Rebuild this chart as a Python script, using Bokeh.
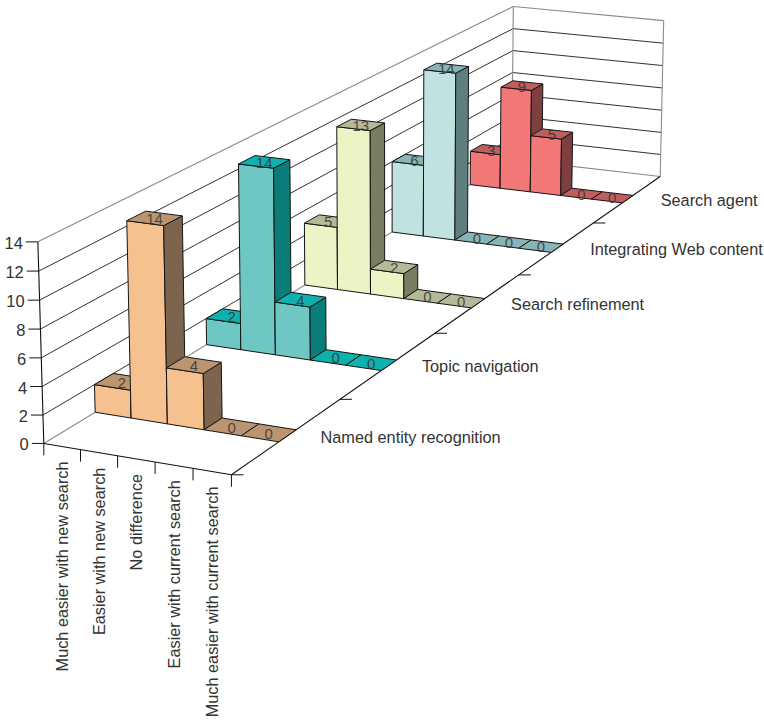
import numpy as np
from bokeh.plotting import figure
from bokeh.models import ColumnDataSource, Range1d
from bokeh.core.properties import value
from bokeh.embed import file_html
from bokeh.resources import INLINE

# Survey responses per feature, nearest row first
categories = ["Much easier with new search", "Easier with new search", "No difference",
              "Easier with current search", "Much easier with current search"]
features = ["Named entity recognition", "Topic navigation", "Search refinement",
            "Integrating Web content", "Search agent"]
named_entity = [2, 14, 4, 0, 0]
topic_navigation = [2, 14, 4, 0, 0]
search_refinement = [5, 13, 2, 0, 0]
integrating_web = [6, 14, 0, 0, 0]
search_agent = [3, 9, 5, 0, 0]
value_ticks = [0, 2, 4, 6, 8, 10, 12, 14]

rows = [named_entity, topic_navigation, search_refinement, integrating_web, search_agent]
front_colors = ["#F5C18F", "#6EC7C3", "#ECF3C5", "#C0E3E1", "#F27878"]
top_colors = ["#BB9570", "#0DB1AE", "#B6B997", "#88B4B6", "#C05E5E"]
side_colors = ["#7D644E", "#0A7D79", "#7A7D62", "#5F7F7E", "#7F3E40"]

TEXT = "#333333"
FONT = value("Liberation Sans")
VMAX = value_ticks[-1]
NX, NZ = len(categories), len(features)
GAP, DEPTH = 0.42, 0.16   # bar placement inside a row's cell
F, B = GAP, GAP + DEPTH

# Camera calibration: (category, row, value) -> page position
camera_pairs = [
    ((0, 0, 0), (44.3, 442.3)), ((0, 0, 14), (37.7, 241.0)), ((5, 0, 0), (230.7, 474.3)),
    ((0, 5, 0), (512.0, 159.3)), ((5, 5, 0), (659.3, 176.7)), ((5, 5, 14), (663.3, 20.0)),
    ((0, 5, 14), (513.3, 5.7)),
    ((1, F, 14), (125.7, 220.0)), ((2, F, 14), (163.3, 225.0)), ((2, B, 14), (182.3, 215.0)),
    ((1, F, 0), (130.7, 417.7)), ((2, F, 0), (166.7, 423.3)), ((3, F, 0), (203.3, 429.3)),
    ((2, F, 4), (166.7, 368.3)), ((3, F, 4), (202.7, 373.3)), ((3, B, 4), (221.0, 361.7)),
    ((1, 1 + F, 14), (237.7, 164.0)), ((2, 1 + F, 14), (273.3, 168.3)), ((2, 1 + B, 14), (289.3, 159.0)),
    ((1, 1 + F, 0), (240.7, 349.3)), ((2, 1 + F, 0), (274.3, 354.3)), ((3, 1 + F, 0), (309.3, 360.0)),
    ((1, 3 + F, 14), (422.7, 69.0)), ((2, 3 + F, 14), (454.3, 73.3)), ((2, 3 + B, 14), (468.3, 66.0)),
    ((1, 3 + F, 0), (422.7, 235.0)), ((2, 3 + F, 0), (454.3, 239.0)),
    ((1, 4 + F, 9), (500.7, 86.7)), ((2, 4 + F, 9), (530.7, 90.0)), ((2, 4 + B, 9), (542.7, 83.3)),
    ((1, 4 + F, 0), (499.3, 187.3)), ((2, 4 + F, 0), (530.0, 191.3)), ((3, 4 + F, 0), (560.0, 195.3)),
    ((5, 4 + B, 0), (630.7, 195.7)),
    ((0, 1 + F, 0), (205.7, 344.3)), ((0, 2 + F, 0), (303.3, 285.0)), ((0, 3 + F, 0), (391.7, 231.7)),
    ((0, 4 + F, 0), (470.0, 184.0)), ((0, F, 0), (94.3, 411.7)),
    ((5, 1, 0), (338.0, 399.5)), ((5, 2, 0), (435.0, 332.7)), ((5, 3, 0), (522.0, 271.5)),
    ((5, 4, 0), (593.0, 222.7)),
]


def solve_camera(pairs):
    A, b = [], []
    for (wx, wz, wv), (u, v) in pairs:
        A.append([wx, wz, wv, 1, 0, 0, 0, 0, -u * wx, -u * wz, -u * wv])
        A.append([0, 0, 0, 0, wx, wz, wv, 1, -v * wx, -v * wz, -v * wv])
        b += [u, v]
    sol = np.linalg.lstsq(np.array(A, float), np.array(b, float), rcond=None)[0]
    return np.append(sol, 1.0).reshape(3, 4)


CAM = solve_camera(camera_pairs)


def project(wx, wz, wv):
    h = CAM @ np.array([wx, wz, wv, 1.0])
    return float(h[0] / h[2]), float(h[1] / h[2])


p = figure(width=764, height=720, output_backend="svg", toolbar_location=None,
           x_range=Range1d(0, 764), y_range=Range1d(720, 0),
           x_axis_location=None, y_axis_location=None, min_border=0,
           background_fill_color="white", border_fill_color="white", outline_line_color=None)
p.grid.visible = False


def segments(pairs, color, width=1.0):
    p.multi_line([[a[0], b[0]] for a, b in pairs], [[a[1], b[1]] for a, b in pairs],
                 line_color=color, line_width=width)


# Walls and floor frame
GRAY = "#8A8A8A"
grid = []
for t in value_ticks[1:-1]:
    grid.append((project(0, 0, t), project(0, NZ, t)))
    grid.append((project(0, NZ, t), project(NX, NZ, t)))
segments(grid, "#1A1A1A", 0.9)
segments([(project(0, 0, VMAX), project(0, NZ, VMAX)), (project(0, NZ, VMAX), project(NX, NZ, VMAX)),
          (project(0, NZ, 0), project(0, NZ, VMAX)), (project(NX, NZ, 0), project(NX, NZ, VMAX)),
          (project(0, 0, 0), project(0, NZ, 0)), (project(0, NZ, 0), project(NX, NZ, 0))], GRAY, 1.1)
segments([(project(0, 0, 0), project(0, 0, VMAX)), (project(0, 0, 0), project(NX, 0, 0)),
          (project(NX, 0, 0), project(NX, NZ, 0))], "#111111", 1.1)

# Axis ticks and their labels
ticks = []
for t in value_ticks:
    x, y = project(0, 0, t)
    ticks.append(((x - 12, y), (x, y)))
for i in range(NX + 1):
    x, y = project(i, 0, 0)
    ticks.append(((x, y), (x, y + 12)))
for j in range(NZ):
    x, y = project(NX, j, 0)
    ticks.append(((x, y), (x + 12, y)))
segments(ticks, "#111111", 1.0)

vx = [project(0, 0, t)[0] - 15 for t in value_ticks]
vy = [project(0, 0, t)[1] + 1 for t in value_ticks]
p.text(vx, vy, text=[str(t) for t in value_ticks], text_align="right", text_baseline="middle",
       text_font=FONT, text_font_size="16.5px", text_color=TEXT)

cx = [project(i + .5, 0, 0)[0] for i in range(NX)]
cy = [project(i + .5, 0, 0)[1] + 15 for i in range(NX)]
p.text(cx, cy, text=categories, angle=np.pi / 2, text_align="right", text_baseline="middle",
       text_font=FONT, text_font_size="16.3px", text_color=TEXT)

fx = [project(NX, j + .5, 0)[0] + 33 for j in range(NZ)]
fy = [project(NX, j + .5, 0)[1] + 1 for j in range(NZ)]
p.text(fx, fy, text=features, text_align="left", text_baseline="middle",
       text_font=FONT, text_font_size="16.3px", text_color=TEXT)

# Bars, far row first so nearer rows overlap them
for j in reversed(range(NZ)):
    z0, z1 = j + GAP, j + GAP + DEPTH
    xs, ys, fills = [], [], []
    lx, ly, lt = [], [], []
    for i, v in enumerate(rows[j]):
        faces = []
        if v > 0:
            faces.append(([(i, z0, 0), (i + 1, z0, 0), (i + 1, z0, v), (i, z0, v)], front_colors[j]))
            faces.append(([(i + 1, z0, 0), (i + 1, z1, 0), (i + 1, z1, v), (i + 1, z0, v)], side_colors[j]))
        faces.append(([(i, z0, v), (i + 1, z0, v), (i + 1, z1, v), (i, z1, v)], top_colors[j]))
        for corners, color in faces:
            pts = [project(*c) for c in corners]
            xs.append([q[0] for q in pts])
            ys.append([q[1] for q in pts])
            fills.append(color)
        q = project(i + .5, (z0 + z1) / 2, v)
        lx.append(q[0]); ly.append(q[1] + 1); lt.append(str(v))
    p.patches("xs", "ys", fill_color="fills", line_color="#151515", line_width=1.0,
              source=ColumnDataSource(dict(xs=xs, ys=ys, fills=fills)))
    p.text(lx, ly, text=lt, text_align="center", text_baseline="middle", text_font=FONT,
           text_font_size="15px", text_color=TEXT, text_alpha=0.85)

open("out.html", "w").write(file_html(p, INLINE))
